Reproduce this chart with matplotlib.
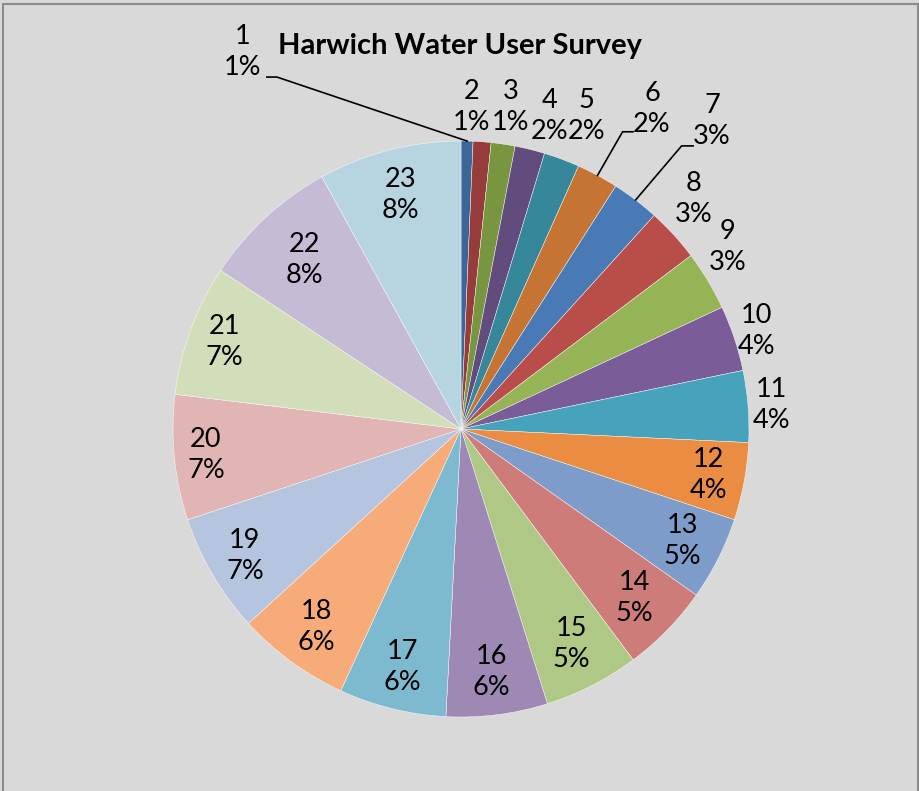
import matplotlib.pyplot as plt
from matplotlib.patches import Rectangle
import numpy as np

plt.rcParams['font.family'] = ['Lato', 'DejaVu Sans']

TITLE = "Harwich Water User Survey"

categories = ["1", "2", "3", "4", "5", "6", "7", "8", "9", "10", "11", "12",
              "13", "14", "15", "16", "17", "18", "19", "20", "21", "22", "23"]
values = [2, 3, 4, 5, 6, 7, 8, 9, 10, 11, 12, 13,
          14, 15, 16, 17, 18, 19, 20, 21, 22, 23, 24]

colors = ["#3C6698", "#963D3B", "#789540", "#624C7E", "#358799", "#C57434",
          "#4A7AB5", "#B84D4A", "#94B456", "#7A5D98", "#46A3BB", "#EA8D42",
          "#7E9CC9", "#CD7C7A", "#AFC885", "#9D89B4", "#7DBAD0", "#F7AB79",
          "#B6C5DF", "#E0B5B4", "#D1DEB9", "#C6BBD4", "#B6D5E0"]

# radius factor for each label (outside > 1, inside < 1)
label_r = [1.12, 1.12, 1.13, 1.13, 1.16, 1.3, 1.38, 1.15, 1.12, 1.08, 1.08, 0.875,
           0.86, 0.84, 0.84, 0.85, 0.85, 0.85, 0.87, 0.89, 0.875, 0.80, 0.84]

# outside labels that were nudged to avoid each other (axes units)
nudged = {
    1: (0.036, 1.118),
    2: (0.172, 1.118),
    3: (0.307, 1.087),
    4: (0.436, 1.087),
    7: (0.809, 0.799),
    8: (0.927, 0.632),
}

# labels moved away with leader lines: label centre, start of leader, knee
leaders = {
    0: ((-0.757, 1.309), (-0.674, 1.222), (-0.639, 1.222)),
    5: ((0.663, 1.111), (0.597, 1.032), (0.561, 1.032)),
    6: ((0.872, 1.069), (0.806, 0.983), (0.766, 0.983)),
}

W, H = 919, 791
fig = plt.figure(figsize=(W / 100, H / 100), dpi=100)
fig.patch.set_facecolor("#D9D9D9")

# chart border
fig.add_artist(Rectangle((2.5 / W, -0.01), (915 / W), 1 - 3.5 / H + 0.01,
                         transform=fig.transFigure, fill=False,
                         edgecolor="#8C8C8C", linewidth=1.5))

cx, cy, R = 461, 429, 288
ax = fig.add_axes([(cx - R) / W, (H - cy - R) / H, 2 * R / W, 2 * R / H])
ax.set_facecolor("none")

wedges, _ = ax.pie(values, colors=colors, startangle=90, counterclock=False,
                   radius=1, wedgeprops=dict(edgecolor="white", linewidth=0.3))
ax.set_xlim(-1, 1)
ax.set_ylim(-1, 1)
ax.set_aspect("equal")
ax.axis("off")

total = sum(values)
for i, w in enumerate(wedges):
    mid = np.deg2rad((w.theta1 + w.theta2) / 2)
    pct = "%d%%" % round(values[i] / total * 100)
    txt = categories[i] + "\n" + pct
    if i in leaders:
        (lx, ly), (sx, sy), (kx, ky) = leaders[i]
        ex, ey = np.cos(mid), np.sin(mid)
        ax.plot([sx, kx, ex], [sy, ky, ey], color="black", lw=1.2, clip_on=False)
    elif i in nudged:
        lx, ly = nudged[i]
    else:
        lx, ly = label_r[i] * np.cos(mid), label_r[i] * np.sin(mid)
    ax.text(lx, ly, txt, ha="center", va="center", fontsize=19.5,
            linespacing=1.3, color="black", clip_on=False)

fig.text(460.5 / W, 1 - 46 / H, TITLE, ha="center", va="center",
         fontsize=21, fontweight="bold", color="black")

fig.savefig("out.png", dpi=100, facecolor=fig.get_facecolor())
